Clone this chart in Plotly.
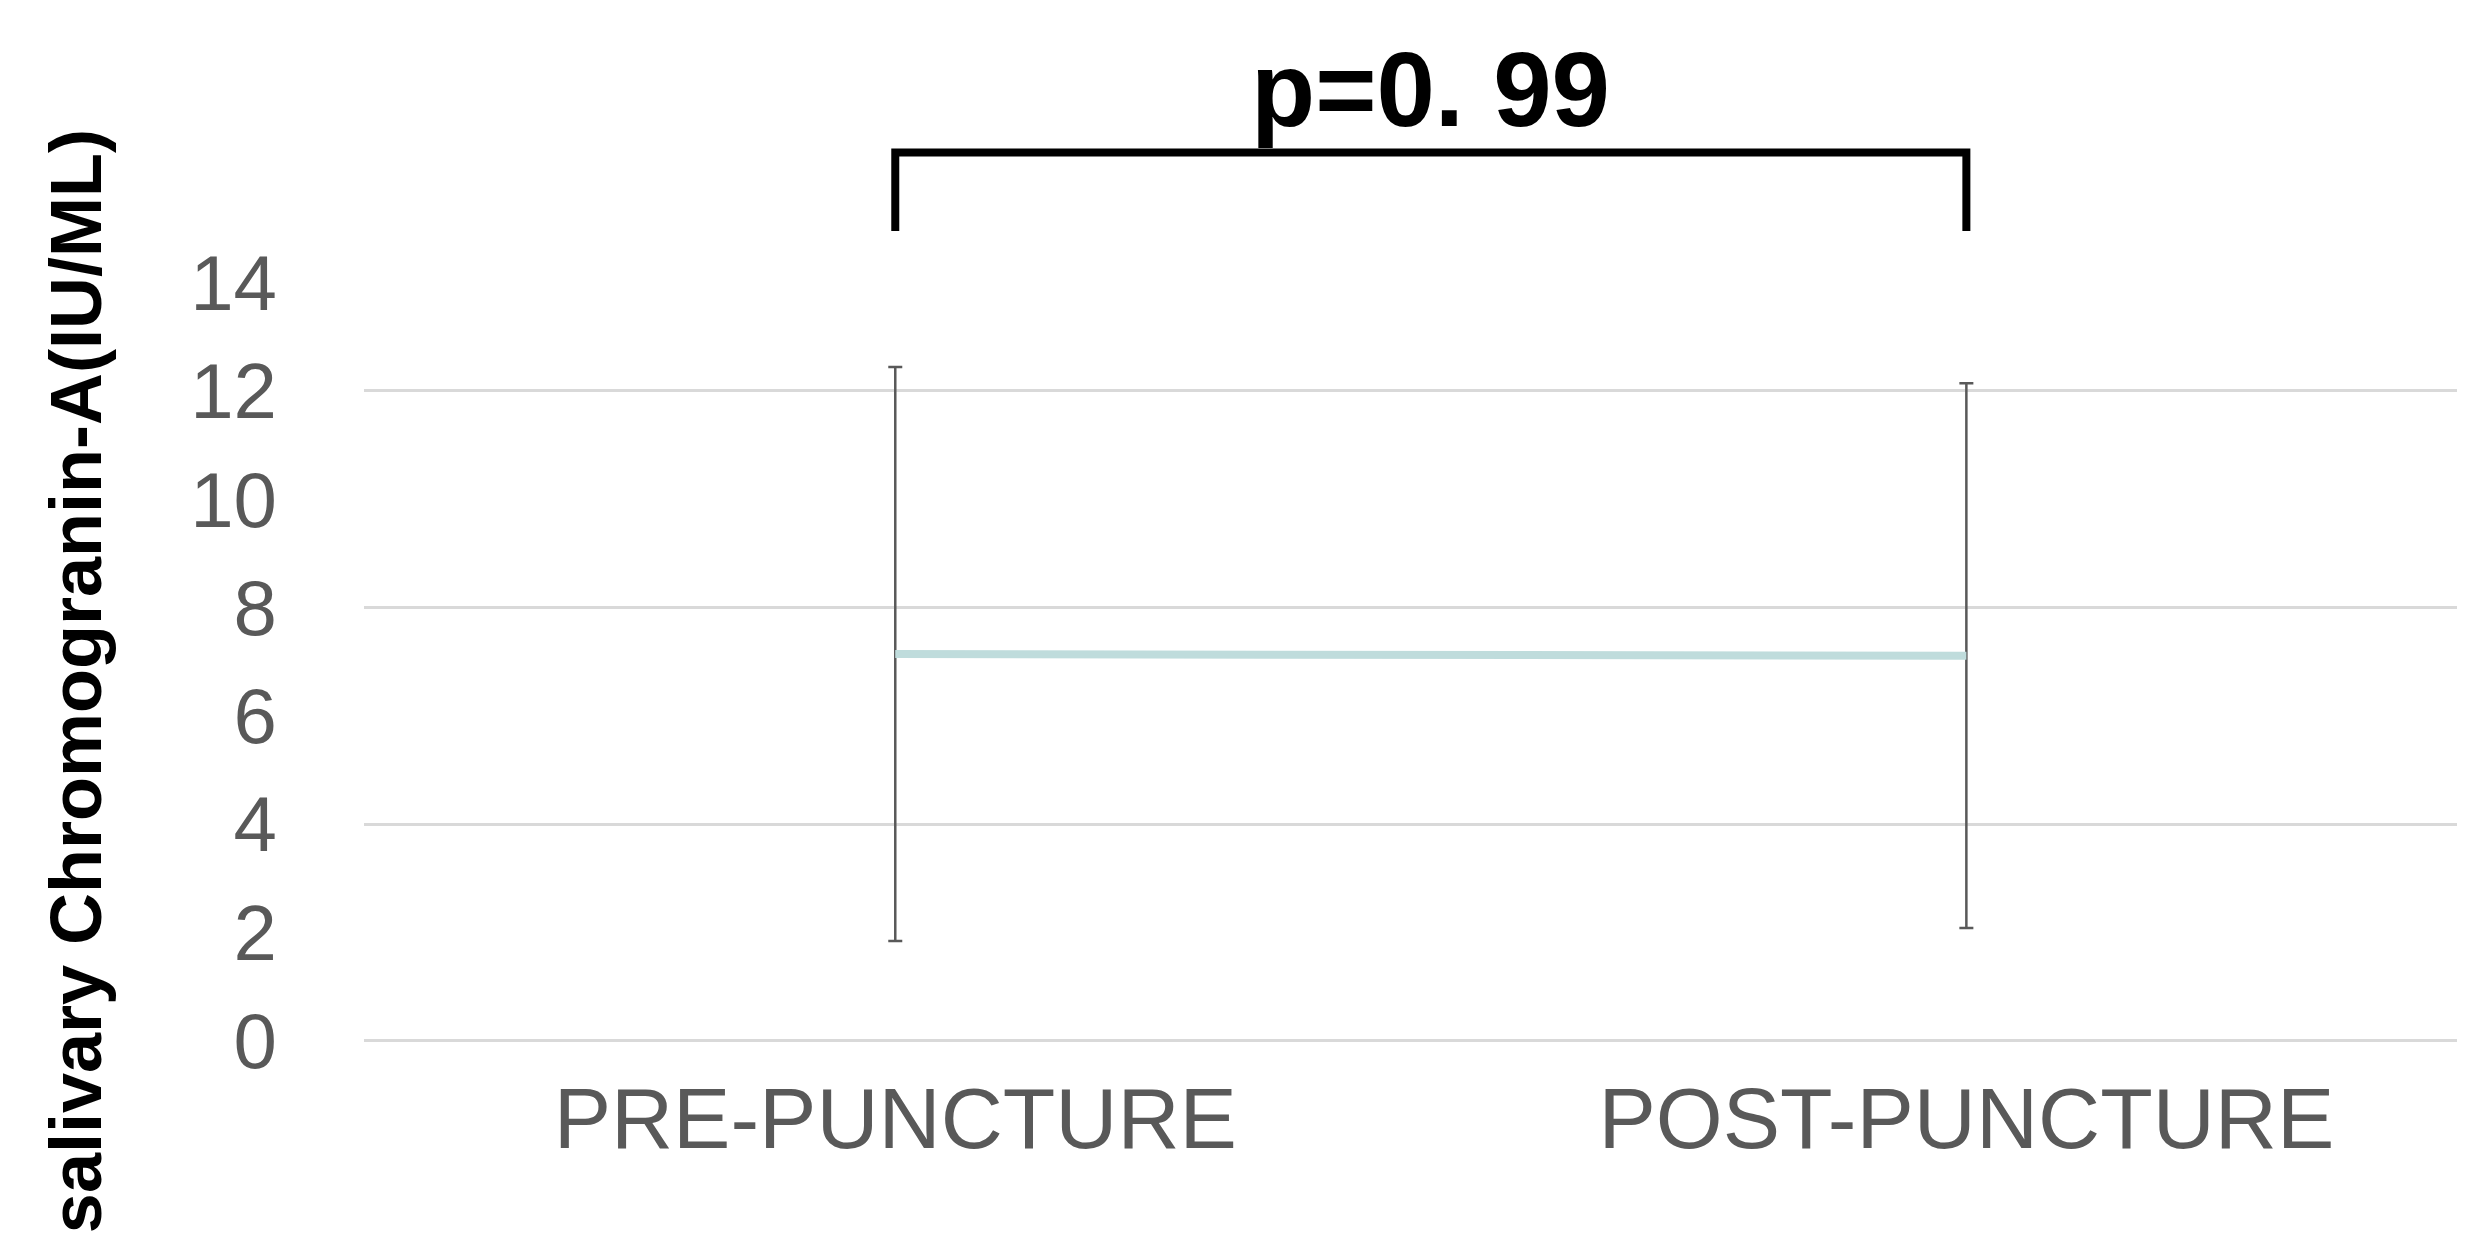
import plotly.graph_objects as go

# ---- data ----
categories = ["PRE-PUNCTURE", "POST-PUNCTURE"]
mean_values = [7.14, 7.11]
sd_values = [5.3, 5.03]
y_tick_values = [0, 2, 4, 6, 8, 10, 12, 14]
y_tick_labels = ["0", "2", "4", "6", "8", "10", "12", "14"]
grid_values = [0, 4, 8, 12]
bracket_x = [categories[0], categories[0], categories[1], categories[1]]
bracket_y = [14.95, 16.4, 16.4, 14.95]
p_label = "p=0. 99"
p_label_y = 17.56
y_title = "salivary Chromogranin-A(IU/ML)"

FONT = "Liberation Sans, Arial, sans-serif"
y_range = [-0.06, 19.07]

fig = go.Figure()

fig.add_trace(go.Scatter(
    x=categories, y=mean_values, mode="lines",
    line=dict(color="#bfdcdc", width=8),
    error_y=dict(type="data", array=sd_values, visible=True,
                 color="#595959", thickness=2.5, width=7),
    showlegend=False, hoverinfo="skip",
))

fig.add_trace(go.Scatter(
    x=bracket_x, y=bracket_y, mode="lines", yaxis="y2",
    line=dict(color="#000000", width=8),
    showlegend=False, hoverinfo="skip",
))

fig.add_annotation(
    x=0.5, y=p_label_y, xref="x", yref="y", text=f"<b>{p_label}</b>",
    showarrow=False, font=dict(family=FONT, size=105, color="#000000"),
    xanchor="center", yanchor="middle",
)

fig.add_annotation(
    x=-0.1362, y=0.35, xref="paper", yref="paper", text=f"<b>{y_title}</b>",
    showarrow=False, textangle=-90,
    font=dict(family=FONT, size=72, color="#000000"),
    xanchor="center", yanchor="middle",
)

fig.update_layout(
    width=2465, height=1235,
    margin=dict(l=356, r=0, t=0, b=199),
    paper_bgcolor="white", plot_bgcolor="white",
    showlegend=False,
    xaxis=dict(
        type="category", range=[-0.496, 1.473],
        showgrid=False, zeroline=False, showline=False, ticks="",
        tickfont=dict(family=FONT, size=86, color="#595959"),
        ticklabelstandoff=17,
    ),
    yaxis=dict(
        range=y_range, tickmode="array", tickvals=y_tick_values, ticktext=y_tick_labels,
        showgrid=False, zeroline=False, showline=False, ticks="",
        tickfont=dict(family=FONT, size=78, color="#595959"),
        ticklabelstandoff=86,
    ),
    yaxis2=dict(
        range=y_range, overlaying="y", side="left",
        tickmode="array", tickvals=grid_values,
        showgrid=True, gridcolor="#d9d9d9", gridwidth=2.5,
        zeroline=False, showline=False, ticks="", showticklabels=False,
    ),
)

fig.write_html("out.html")
